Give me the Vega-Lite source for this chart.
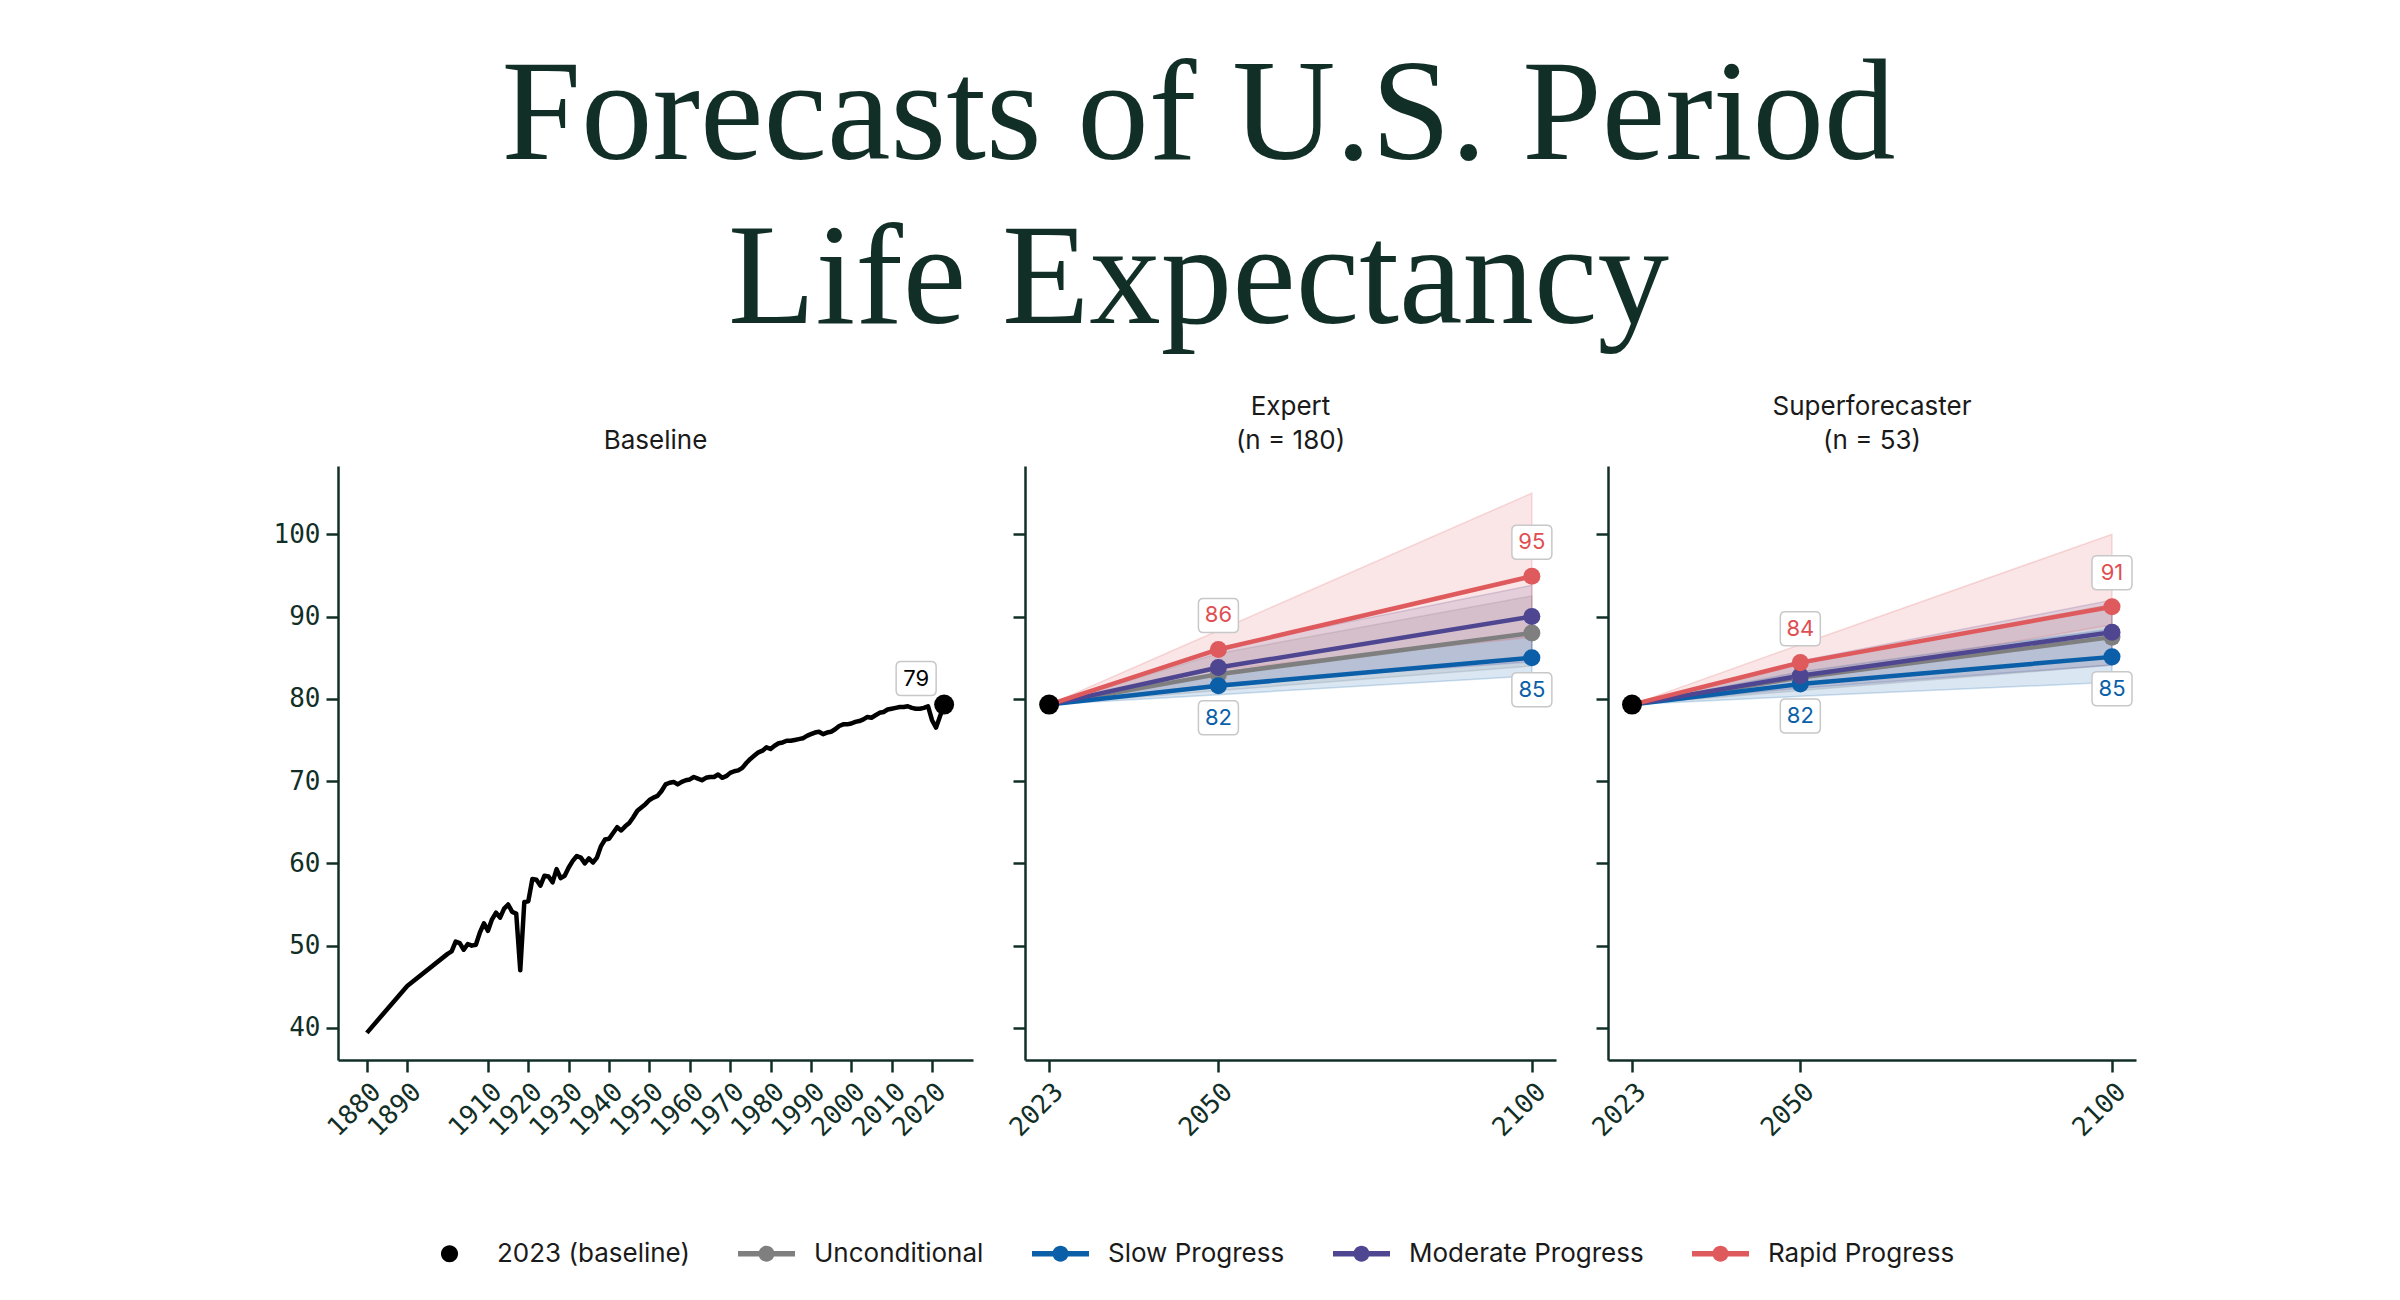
{
  "$schema": "https://vega.github.io/schema/vega-lite/v6.json",
  "background": "white",
  "padding": {"left": 273, "top": 45, "right": 20, "bottom": 20},
  "title": {
    "text": ["Forecasts of U.S. Period", "Life Expectancy"],
    "font": "Liberation Serif",
    "fontSize": 143,
    "fontWeight": "normal",
    "lineHeight": 164,
    "color": "#122f27",
    "anchor": "middle",
    "dx": -6,
    "offset": 41
  },
  "datasets": {
    "base": [
      {"year": 1880, "value": 39.4}, {"year": 1890, "value": 45.1}, {"year": 1900, "value": 49.0},
      {"year": 1901, "value": 49.3}, {"year": 1902, "value": 50.5}, {"year": 1903, "value": 50.3},
      {"year": 1904, "value": 49.5}, {"year": 1905, "value": 50.2}, {"year": 1906, "value": 50.0},
      {"year": 1907, "value": 50.1}, {"year": 1908, "value": 51.6}, {"year": 1909, "value": 52.7},
      {"year": 1910, "value": 51.8}, {"year": 1911, "value": 53.2}, {"year": 1912, "value": 54.0},
      {"year": 1913, "value": 53.4}, {"year": 1914, "value": 54.5}, {"year": 1915, "value": 55.0},
      {"year": 1916, "value": 54.1}, {"year": 1917, "value": 53.9}, {"year": 1918, "value": 47.0},
      {"year": 1919, "value": 55.3}, {"year": 1920, "value": 55.4}, {"year": 1921, "value": 58.1},
      {"year": 1922, "value": 58.0}, {"year": 1923, "value": 57.3}, {"year": 1924, "value": 58.5},
      {"year": 1925, "value": 58.4}, {"year": 1926, "value": 57.7}, {"year": 1927, "value": 59.3},
      {"year": 1928, "value": 58.2}, {"year": 1929, "value": 58.5}, {"year": 1930, "value": 59.5},
      {"year": 1931, "value": 60.3}, {"year": 1932, "value": 60.9}, {"year": 1933, "value": 60.7},
      {"year": 1934, "value": 60.0}, {"year": 1935, "value": 60.6}, {"year": 1936, "value": 60.1},
      {"year": 1937, "value": 60.7}, {"year": 1938, "value": 62.1}, {"year": 1939, "value": 62.9},
      {"year": 1940, "value": 63.0}, {"year": 1941, "value": 63.7}, {"year": 1942, "value": 64.4},
      {"year": 1943, "value": 64.0}, {"year": 1944, "value": 64.5}, {"year": 1945, "value": 64.9},
      {"year": 1946, "value": 65.6}, {"year": 1947, "value": 66.4}, {"year": 1948, "value": 66.8},
      {"year": 1949, "value": 67.2}, {"year": 1950, "value": 67.7}, {"year": 1951, "value": 68.0},
      {"year": 1952, "value": 68.2}, {"year": 1953, "value": 68.8}, {"year": 1954, "value": 69.6},
      {"year": 1955, "value": 69.8}, {"year": 1956, "value": 69.9}, {"year": 1957, "value": 69.6},
      {"year": 1958, "value": 69.9}, {"year": 1959, "value": 70.1}, {"year": 1960, "value": 70.2},
      {"year": 1961, "value": 70.5}, {"year": 1962, "value": 70.3}, {"year": 1963, "value": 70.1},
      {"year": 1964, "value": 70.4}, {"year": 1965, "value": 70.5}, {"year": 1966, "value": 70.5},
      {"year": 1967, "value": 70.8}, {"year": 1968, "value": 70.4}, {"year": 1969, "value": 70.6},
      {"year": 1970, "value": 71.0}, {"year": 1971, "value": 71.2}, {"year": 1972, "value": 71.3},
      {"year": 1973, "value": 71.6}, {"year": 1974, "value": 72.2}, {"year": 1975, "value": 72.7},
      {"year": 1976, "value": 73.1}, {"year": 1977, "value": 73.5}, {"year": 1978, "value": 73.7},
      {"year": 1979, "value": 74.1}, {"year": 1980, "value": 73.9}, {"year": 1981, "value": 74.3},
      {"year": 1982, "value": 74.6}, {"year": 1983, "value": 74.7}, {"year": 1984, "value": 74.9},
      {"year": 1985, "value": 74.9}, {"year": 1986, "value": 75.0}, {"year": 1987, "value": 75.1},
      {"year": 1988, "value": 75.2}, {"year": 1989, "value": 75.5}, {"year": 1990, "value": 75.7},
      {"year": 1991, "value": 75.9}, {"year": 1992, "value": 76.0}, {"year": 1993, "value": 75.7},
      {"year": 1994, "value": 75.9}, {"year": 1995, "value": 76.0}, {"year": 1996, "value": 76.3},
      {"year": 1997, "value": 76.7}, {"year": 1998, "value": 76.9}, {"year": 1999, "value": 76.9},
      {"year": 2000, "value": 77.0}, {"year": 2001, "value": 77.2}, {"year": 2002, "value": 77.3},
      {"year": 2003, "value": 77.5}, {"year": 2004, "value": 77.8}, {"year": 2005, "value": 77.7},
      {"year": 2006, "value": 78.0}, {"year": 2007, "value": 78.3}, {"year": 2008, "value": 78.4},
      {"year": 2009, "value": 78.7}, {"year": 2010, "value": 78.8}, {"year": 2011, "value": 78.9},
      {"year": 2012, "value": 79.0}, {"year": 2013, "value": 79.0}, {"year": 2014, "value": 79.1},
      {"year": 2015, "value": 78.9}, {"year": 2016, "value": 78.8}, {"year": 2017, "value": 78.8},
      {"year": 2018, "value": 78.9}, {"year": 2019, "value": 79.1}, {"year": 2020, "value": 77.4},
      {"year": 2021, "value": 76.5}, {"year": 2023, "value": 79.3}
    ],
    "dot": [
      {"series": "2023 (baseline)", "year": 2023, "value": 79.3}
    ],
    "fc": [
      {"panel": "Expert", "series": "Unconditional", "year": 2023, "value": 79.3, "lo": 79.3, "hi": 79.3},
      {"panel": "Expert", "series": "Unconditional", "year": 2050, "value": 83.0, "lo": 81.0, "hi": 85.5},
      {"panel": "Expert", "series": "Unconditional", "year": 2100, "value": 88.0, "lo": 84.0, "hi": 92.5},
      {"panel": "Expert", "series": "Slow Progress", "year": 2023, "value": 79.3, "lo": 79.3, "hi": 79.3},
      {"panel": "Expert", "series": "Slow Progress", "year": 2050, "value": 81.6, "lo": 80.5, "hi": 83.2},
      {"panel": "Expert", "series": "Slow Progress", "year": 2100, "value": 85.0, "lo": 82.8, "hi": 88.0},
      {"panel": "Expert", "series": "Moderate Progress", "year": 2023, "value": 79.3, "lo": 79.3, "hi": 79.3},
      {"panel": "Expert", "series": "Moderate Progress", "year": 2050, "value": 83.8, "lo": 81.8, "hi": 86.2},
      {"panel": "Expert", "series": "Moderate Progress", "year": 2100, "value": 90.0, "lo": 84.5, "hi": 93.8},
      {"panel": "Expert", "series": "Rapid Progress", "year": 2023, "value": 79.3, "lo": 79.3, "hi": 79.3},
      {"panel": "Expert", "series": "Rapid Progress", "year": 2050, "value": 86.0, "lo": 83.5, "hi": 88.3},
      {"panel": "Expert", "series": "Rapid Progress", "year": 2100, "value": 94.9, "lo": 87.5, "hi": 105.0},
      {"panel": "Super", "series": "Unconditional", "year": 2023, "value": 79.3, "lo": 79.3, "hi": 79.3},
      {"panel": "Super", "series": "Unconditional", "year": 2050, "value": 82.6, "lo": 81.0, "hi": 84.3},
      {"panel": "Super", "series": "Unconditional", "year": 2100, "value": 87.5, "lo": 84.1, "hi": 91.5},
      {"panel": "Super", "series": "Slow Progress", "year": 2023, "value": 79.3, "lo": 79.3, "hi": 79.3},
      {"panel": "Super", "series": "Slow Progress", "year": 2050, "value": 81.8, "lo": 80.3, "hi": 83.3},
      {"panel": "Super", "series": "Slow Progress", "year": 2100, "value": 85.1, "lo": 82.0, "hi": 88.5},
      {"panel": "Super", "series": "Moderate Progress", "year": 2023, "value": 79.3, "lo": 79.3, "hi": 79.3},
      {"panel": "Super", "series": "Moderate Progress", "year": 2050, "value": 82.8, "lo": 81.3, "hi": 84.6},
      {"panel": "Super", "series": "Moderate Progress", "year": 2100, "value": 88.1, "lo": 84.1, "hi": 92.0},
      {"panel": "Super", "series": "Rapid Progress", "year": 2023, "value": 79.3, "lo": 79.3, "hi": 79.3},
      {"panel": "Super", "series": "Rapid Progress", "year": 2050, "value": 84.4, "lo": 82.5, "hi": 86.6},
      {"panel": "Super", "series": "Rapid Progress", "year": 2100, "value": 91.2, "lo": 89.0, "hi": 100.0}
    ]
  },
  "spacing": 52,
  "bounds": "flush",
  "hconcat": [
    {
      "width": 635,
      "height": 594,
      "title": {"text": "Baseline"},
      "encoding": {
        "x": {
          "field": "year", "type": "quantitative",
          "scale": {"domain": [1872.85, 2030.15], "nice": false, "zero": false},
          "axis": {"values": [1880, 1890, 1910, 1920, 1930, 1940, 1950, 1960, 1970, 1980, 1990, 2000, 2010, 2020], "format": "d", "labelAngle": -45}
        },
        "y": {
          "field": "value", "type": "quantitative",
          "scale": {"domain": [36.1, 108.3], "nice": false, "zero": false},
          "axis": {"values": [40, 50, 60, 70, 80, 90, 100]}
        }
      },
      "layer": [
        {
          "data": {"name": "base"},
          "mark": {"type": "line", "color": "#000000", "strokeWidth": 4.5, "strokeJoin": "round"}
        },
        {
          "data": {"name": "dot"},
          "mark": {"type": "point", "filled": true, "size": 400, "opacity": 1},
          "encoding": {
            "color": {
              "field": "series", "type": "nominal",
              "scale": {
                "domain": ["2023 (baseline)", "Unconditional", "Slow Progress", "Moderate Progress", "Rapid Progress"],
                "range": ["#000000", "#7f7f7f", "#0a5fa8", "#4e4691", "#df5a5c"]
              },
              "legend": {
                "title": null, "orient": "none", "legendX": 83, "legendY": 759, "direction": "horizontal",
                "symbolSize": 3249, "symbolOpacity": 1, "symbolStrokeWidth": 0,
                "labelFont": "Inter", "labelFontSize": 26, "labelColor": "#1a1a1a",
                "labelOffset": 19, "labelLimit": 400, "columnPadding": 48
              }
            }
          }
        },
        {
          "data": {"name": "dot"},
          "mark": {"type": "point", "filled": true, "size": 1, "opacity": 0},
          "encoding": {
            "shape": {
              "field": "series", "type": "nominal",
              "scale": {
                "domain": ["2023 (baseline)", "Unconditional", "Slow Progress", "Moderate Progress", "Rapid Progress"],
                "range": [
                  "M-0.3,0A0.3,0.3 0 1,1 0.3,0A0.3,0.3 0 1,1 -0.3,0Z",
                  "M-1,-0.095L1,-0.095L1,0.095L-1,0.095ZM-0.28,0A0.28,0.28 0 1,1 0.28,0A0.28,0.28 0 1,1 -0.28,0Z",
                  "M-1,-0.095L1,-0.095L1,0.095L-1,0.095ZM-0.28,0A0.28,0.28 0 1,1 0.28,0A0.28,0.28 0 1,1 -0.28,0Z",
                  "M-1,-0.095L1,-0.095L1,0.095L-1,0.095ZM-0.28,0A0.28,0.28 0 1,1 0.28,0A0.28,0.28 0 1,1 -0.28,0Z",
                  "M-1,-0.095L1,-0.095L1,0.095L-1,0.095ZM-0.28,0A0.28,0.28 0 1,1 0.28,0A0.28,0.28 0 1,1 -0.28,0Z"
                ]
              },
              "legend": {
                "title": null, "orient": "none", "legendX": 83, "legendY": 759, "direction": "horizontal",
                "symbolSize": 3249, "symbolOpacity": 1, "symbolStrokeWidth": 0,
                "labelFont": "Inter", "labelFontSize": 26, "labelColor": "#1a1a1a",
                "labelOffset": 19, "labelLimit": 400, "columnPadding": 48
              }
            }
          }
        },
        {
          "data": {"name": "dot"},
          "mark": {"type": "point", "shape": "M-0.75,-0.85L0.75,-0.85Q1,-0.85 1,-0.6L1,0.6Q1,0.85 0.75,0.85L-0.75,0.85Q-1,0.85 -1,0.6L-1,-0.6Q-1,-0.85 -0.75,-0.85Z", "size": 1600, "fill": "#ffffff", "stroke": "#c8c8c8", "strokeWidth": 1.5, "opacity": 1, "xOffset": -28, "yOffset": -26}
        },
        {
          "data": {"name": "dot"},
          "mark": {"type": "text", "dx": -28, "dy": -26, "font": "Inter", "fontSize": 22, "color": "#000000"},
          "encoding": {"text": {"field": "value", "type": "quantitative", "format": ".0f"}}
        }
      ]
    },
    {
      "width": 531,
      "height": 594,
      "title": {"text": ["Expert", "(n = 180)"]},
      "encoding": {
        "x": {
          "field": "year", "type": "quantitative",
          "scale": {"domain": [2019.15, 2103.85], "nice": false, "zero": false},
          "axis": {"values": [2023, 2050, 2100], "format": "d", "labelAngle": -45}
        },
        "y": {
          "field": "value", "type": "quantitative",
          "scale": {"domain": [36.1, 108.3], "nice": false, "zero": false},
          "axis": {"values": [40, 50, 60, 70, 80, 90, 100], "labels": false}
        }
      },
      "layer": [
        {
          "data": {"name": "fc"},
          "transform": [{"filter": "datum.panel === 'Expert'"}],
          "mark": {"type": "area", "fillOpacity": 0.15, "strokeWidth": 1.5, "strokeOpacity": 0.2},
          "encoding": {
            "y": {"field": "lo", "type": "quantitative"},
            "y2": {"field": "hi"},
            "fill": {"field": "series", "type": "nominal", "legend": null,
              "scale": {"domain": ["Unconditional", "Slow Progress", "Moderate Progress", "Rapid Progress"], "range": ["#7f7f7f", "#0a5fa8", "#4e4691", "#df5a5c"]}},
            "stroke": {"field": "series", "type": "nominal", "legend": null,
              "scale": {"domain": ["Unconditional", "Slow Progress", "Moderate Progress", "Rapid Progress"], "range": ["#7f7f7f", "#0a5fa8", "#4e4691", "#df5a5c"]}}
          }
        },
        {
          "data": {"name": "fc"},
          "transform": [{"filter": "datum.panel === 'Expert'"}],
          "mark": {"type": "line", "strokeWidth": 4.5},
          "encoding": {"stroke": {"field": "series", "type": "nominal", "legend": null}}
        },
        {
          "data": {"name": "fc"},
          "transform": [{"filter": "datum.panel === 'Expert' && datum.year > 2023"}],
          "mark": {"type": "point", "filled": true, "size": 290, "opacity": 1},
          "encoding": {"color": {"field": "series", "type": "nominal"}}
        },
        {
          "data": {"name": "dot"},
          "mark": {"type": "point", "filled": true, "size": 400, "opacity": 1},
          "encoding": {"color": {"field": "series", "type": "nominal"}}
        },
        {
          "data": {"name": "fc"},
          "transform": [{"filter": "datum.panel === 'Expert' && datum.year > 2023 && datum.series === 'Rapid Progress'"}],
          "mark": {"type": "point", "shape": "M-0.75,-0.85L0.75,-0.85Q1,-0.85 1,-0.6L1,0.6Q1,0.85 0.75,0.85L-0.75,0.85Q-1,0.85 -1,0.6L-1,-0.6Q-1,-0.85 -0.75,-0.85Z", "size": 1600, "fill": "#ffffff", "stroke": "#c8c8c8", "strokeWidth": 1.5, "opacity": 1, "yOffset": -34}
        },
        {
          "data": {"name": "fc"},
          "transform": [{"filter": "datum.panel === 'Expert' && datum.year > 2023 && datum.series === 'Slow Progress'"}],
          "mark": {"type": "point", "shape": "M-0.75,-0.85L0.75,-0.85Q1,-0.85 1,-0.6L1,0.6Q1,0.85 0.75,0.85L-0.75,0.85Q-1,0.85 -1,0.6L-1,-0.6Q-1,-0.85 -0.75,-0.85Z", "size": 1600, "fill": "#ffffff", "stroke": "#c8c8c8", "strokeWidth": 1.5, "opacity": 1, "yOffset": 32}
        },
        {
          "data": {"name": "fc"},
          "transform": [{"filter": "datum.panel === 'Expert' && datum.year > 2023 && datum.series === 'Rapid Progress'"}],
          "mark": {"type": "text", "dy": -34, "font": "Inter", "fontSize": 22, "fill": "#df4f52"},
          "encoding": {"text": {"field": "value", "type": "quantitative", "format": ".0f"}}
        },
        {
          "data": {"name": "fc"},
          "transform": [{"filter": "datum.panel === 'Expert' && datum.year > 2023 && datum.series === 'Slow Progress'"}],
          "mark": {"type": "text", "dy": 32, "font": "Inter", "fontSize": 22, "fill": "#0a5fa8"},
          "encoding": {"text": {"field": "value", "type": "quantitative", "format": ".0f"}}
        }
      ]
    },
    {
      "width": 528,
      "height": 594,
      "title": {"text": ["Superforecaster", "(n = 53)"]},
      "encoding": {
        "x": {
          "field": "year", "type": "quantitative",
          "scale": {"domain": [2019.15, 2103.85], "nice": false, "zero": false},
          "axis": {"values": [2023, 2050, 2100], "format": "d", "labelAngle": -45}
        },
        "y": {
          "field": "value", "type": "quantitative",
          "scale": {"domain": [36.1, 108.3], "nice": false, "zero": false},
          "axis": {"values": [40, 50, 60, 70, 80, 90, 100], "labels": false}
        }
      },
      "layer": [
        {
          "data": {"name": "fc"},
          "transform": [{"filter": "datum.panel === 'Super'"}],
          "mark": {"type": "area", "fillOpacity": 0.15, "strokeWidth": 1.5, "strokeOpacity": 0.2},
          "encoding": {
            "y": {"field": "lo", "type": "quantitative"},
            "y2": {"field": "hi"},
            "fill": {"field": "series", "type": "nominal", "legend": null,
              "scale": {"domain": ["Unconditional", "Slow Progress", "Moderate Progress", "Rapid Progress"], "range": ["#7f7f7f", "#0a5fa8", "#4e4691", "#df5a5c"]}},
            "stroke": {"field": "series", "type": "nominal", "legend": null,
              "scale": {"domain": ["Unconditional", "Slow Progress", "Moderate Progress", "Rapid Progress"], "range": ["#7f7f7f", "#0a5fa8", "#4e4691", "#df5a5c"]}}
          }
        },
        {
          "data": {"name": "fc"},
          "transform": [{"filter": "datum.panel === 'Super'"}],
          "mark": {"type": "line", "strokeWidth": 4.5},
          "encoding": {"stroke": {"field": "series", "type": "nominal", "legend": null}}
        },
        {
          "data": {"name": "fc"},
          "transform": [{"filter": "datum.panel === 'Super' && datum.year > 2023"}],
          "mark": {"type": "point", "filled": true, "size": 290, "opacity": 1},
          "encoding": {"color": {"field": "series", "type": "nominal"}}
        },
        {
          "data": {"name": "dot"},
          "mark": {"type": "point", "filled": true, "size": 400, "opacity": 1},
          "encoding": {"color": {"field": "series", "type": "nominal"}}
        },
        {
          "data": {"name": "fc"},
          "transform": [{"filter": "datum.panel === 'Super' && datum.year > 2023 && datum.series === 'Rapid Progress'"}],
          "mark": {"type": "point", "shape": "M-0.75,-0.85L0.75,-0.85Q1,-0.85 1,-0.6L1,0.6Q1,0.85 0.75,0.85L-0.75,0.85Q-1,0.85 -1,0.6L-1,-0.6Q-1,-0.85 -0.75,-0.85Z", "size": 1600, "fill": "#ffffff", "stroke": "#c8c8c8", "strokeWidth": 1.5, "opacity": 1, "yOffset": -34}
        },
        {
          "data": {"name": "fc"},
          "transform": [{"filter": "datum.panel === 'Super' && datum.year > 2023 && datum.series === 'Slow Progress'"}],
          "mark": {"type": "point", "shape": "M-0.75,-0.85L0.75,-0.85Q1,-0.85 1,-0.6L1,0.6Q1,0.85 0.75,0.85L-0.75,0.85Q-1,0.85 -1,0.6L-1,-0.6Q-1,-0.85 -0.75,-0.85Z", "size": 1600, "fill": "#ffffff", "stroke": "#c8c8c8", "strokeWidth": 1.5, "opacity": 1, "yOffset": 32}
        },
        {
          "data": {"name": "fc"},
          "transform": [{"filter": "datum.panel === 'Super' && datum.year > 2023 && datum.series === 'Rapid Progress'"}],
          "mark": {"type": "text", "dy": -34, "font": "Inter", "fontSize": 22, "fill": "#df4f52"},
          "encoding": {"text": {"field": "value", "type": "quantitative", "format": ".0f"}}
        },
        {
          "data": {"name": "fc"},
          "transform": [{"filter": "datum.panel === 'Super' && datum.year > 2023 && datum.series === 'Slow Progress'"}],
          "mark": {"type": "text", "dy": 32, "font": "Inter", "fontSize": 22, "fill": "#0a5fa8"},
          "encoding": {"text": {"field": "value", "type": "quantitative", "format": ".0f"}}
        }
      ]
    }
  ],
  "config": {
    "view": {"stroke": null},
    "font": "Inter",
    "title": {"font": "Inter", "fontSize": 26, "fontWeight": "normal", "color": "#1a1a1a", "lineHeight": 34, "offset": 12},
    "axis": {
      "title": null,
      "grid": false,
      "domainColor": "#122f27",
      "domainWidth": 2.5,
      "tickColor": "#122f27",
      "tickWidth": 2.5,
      "tickSize": 12,
      "labelFont": "DejaVu Sans Mono",
      "labelFontSize": 26,
      "labelColor": "#122f27",
      "labelPadding": 6,
      "labelOverlap": false
    }
  }
}
